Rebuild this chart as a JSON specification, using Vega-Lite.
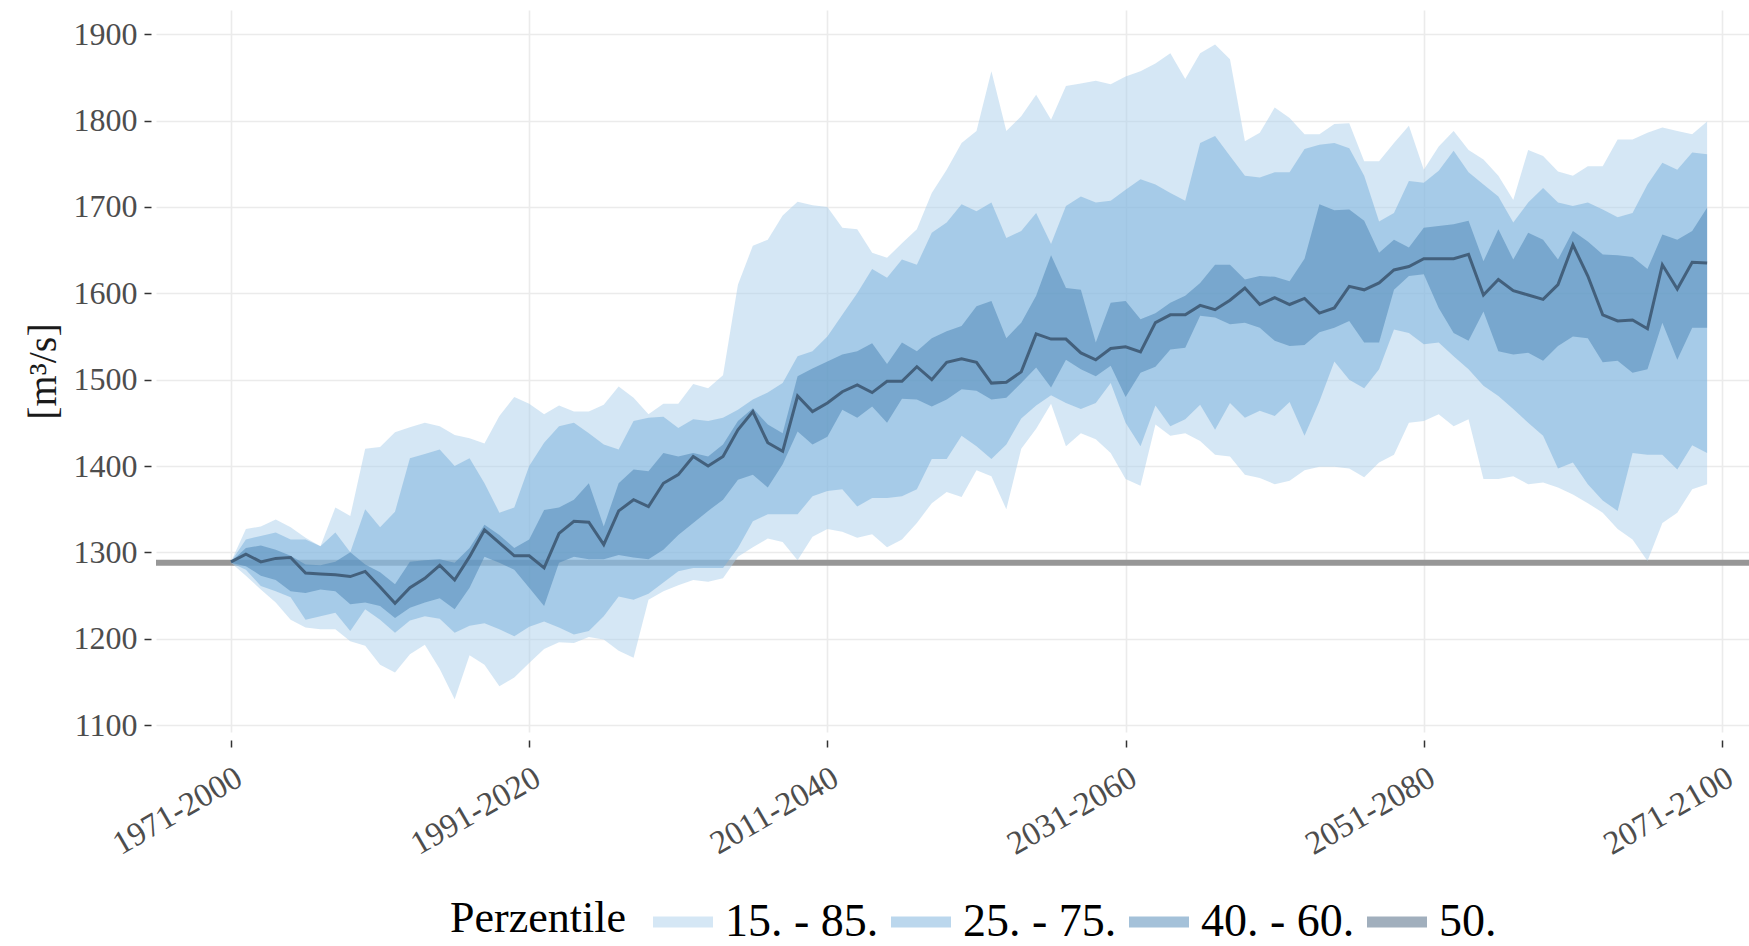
{
  "$schema": "https://vega.github.io/schema/vega-lite/v6.json",
  "autosize": {"type": "none"},
  "padding": {"left": 156, "top": 10, "right": 0, "bottom": 214},
  "width": 1593,
  "height": 722,
  "background": "white",
  "config": {
    "view": {"stroke": null},
    "axis": {
      "domain": false,
      "grid": true,
      "gridColor": "#ebebeb",
      "gridWidth": 1.6,
      "tickColor": "#333333",
      "tickSize": 7,
      "tickWidth": 1.5,
      "labelFont": "Liberation Serif",
      "labelColor": "#4d4d4d",
      "titleFont": "Liberation Serif",
      "titleFontWeight": "normal",
      "titleColor": "#1a1a1a"
    }
  },
  "datasets": {
    "q": [
      {"year":1971,"p15":1288,"p25":1288,"p40":1288,"p50":1289,"p60":1289,"p75":1289,"p85":1289},
      {"year":1972,"p15":1273,"p25":1280,"p40":1284,"p50":1298,"p60":1305,"p75":1315,"p85":1327},
      {"year":1973,"p15":1257,"p25":1261,"p40":1273,"p50":1289,"p60":1308,"p75":1319,"p85":1330},
      {"year":1974,"p15":1242,"p25":1255,"p40":1268,"p50":1293,"p60":1303,"p75":1323,"p85":1338},
      {"year":1975,"p15":1222,"p25":1248,"p40":1255,"p50":1294,"p60":1296,"p75":1315,"p85":1329},
      {"year":1976,"p15":1213,"p25":1222,"p40":1253,"p50":1276,"p60":1286,"p75":1315,"p85":1317},
      {"year":1977,"p15":1211,"p25":1226,"p40":1257,"p50":1275,"p60":1285,"p75":1307,"p85":1307},
      {"year":1978,"p15":1211,"p25":1230,"p40":1255,"p50":1274,"p60":1289,"p75":1323,"p85":1352},
      {"year":1979,"p15":1197,"p25":1209,"p40":1240,"p50":1272,"p60":1300,"p75":1300,"p85":1342},
      {"year":1980,"p15":1192,"p25":1234,"p40":1242,"p50":1278,"p60":1286,"p75":1350,"p85":1420},
      {"year":1981,"p15":1170,"p25":1222,"p40":1238,"p50":1260,"p60":1277,"p75":1329,"p85":1422},
      {"year":1982,"p15":1161,"p25":1207,"p40":1224,"p50":1241,"p60":1263,"p75":1347,"p85":1439},
      {"year":1983,"p15":1182,"p25":1221,"p40":1236,"p50":1259,"p60":1289,"p75":1409,"p85":1445},
      {"year":1984,"p15":1193,"p25":1226,"p40":1242,"p50":1270,"p60":1291,"p75":1414,"p85":1450},
      {"year":1985,"p15":1165,"p25":1223,"p40":1247,"p50":1285,"p60":1292,"p75":1419,"p85":1446},
      {"year":1986,"p15":1130,"p25":1207,"p40":1234,"p50":1268,"p60":1288,"p75":1400,"p85":1436},
      {"year":1987,"p15":1181,"p25":1215,"p40":1259,"p50":1295,"p60":1305,"p75":1409,"p85":1432},
      {"year":1988,"p15":1170,"p25":1218,"p40":1295,"p50":1326,"p60":1332,"p75":1380,"p85":1426},
      {"year":1989,"p15":1145,"p25":1211,"p40":1288,"p50":1311,"p60":1320,"p75":1346,"p85":1458},
      {"year":1990,"p15":1155,"p25":1203,"p40":1280,"p50":1296,"p60":1305,"p75":1352,"p85":1480},
      {"year":1991,"p15":1172,"p25":1214,"p40":1259,"p50":1296,"p60":1315,"p75":1400,"p85":1472},
      {"year":1992,"p15":1188,"p25":1220,"p40":1238,"p50":1282,"p60":1349,"p75":1427,"p85":1460},
      {"year":1993,"p15":1196,"p25":1213,"p40":1288,"p50":1322,"p60":1352,"p75":1446,"p85":1470},
      {"year":1994,"p15":1195,"p25":1205,"p40":1295,"p50":1336,"p60":1361,"p75":1450,"p85":1463},
      {"year":1995,"p15":1202,"p25":1209,"p40":1292,"p50":1335,"p60":1380,"p75":1438,"p85":1463},
      {"year":1996,"p15":1199,"p25":1226,"p40":1292,"p50":1309,"p60":1330,"p75":1425,"p85":1471},
      {"year":1997,"p15":1186,"p25":1249,"p40":1297,"p50":1348,"p60":1380,"p75":1419,"p85":1492},
      {"year":1998,"p15":1178,"p25":1245,"p40":1294,"p50":1361,"p60":1396,"p75":1452,"p85":1479},
      {"year":1999,"p15":1245,"p25":1252,"p40":1292,"p50":1353,"p60":1394,"p75":1456,"p85":1460},
      {"year":2000,"p15":1255,"p25":1265,"p40":1303,"p50":1380,"p60":1415,"p75":1457,"p85":1472},
      {"year":2001,"p15":1262,"p25":1278,"p40":1320,"p50":1390,"p60":1411,"p75":1444,"p85":1472},
      {"year":2002,"p15":1268,"p25":1282,"p40":1334,"p50":1411,"p60":1415,"p75":1454,"p85":1495},
      {"year":2003,"p15":1266,"p25":1282,"p40":1348,"p50":1400,"p60":1411,"p75":1452,"p85":1490},
      {"year":2004,"p15":1270,"p25":1282,"p40":1361,"p50":1411,"p60":1425,"p75":1456,"p85":1505},
      {"year":2005,"p15":1295,"p25":1305,"p40":1384,"p50":1442,"p60":1452,"p75":1465,"p85":1610},
      {"year":2006,"p15":1306,"p25":1336,"p40":1390,"p50":1463,"p60":1467,"p75":1477,"p85":1655},
      {"year":2007,"p15":1316,"p25":1344,"p40":1375,"p50":1427,"p60":1448,"p75":1485,"p85":1662},
      {"year":2008,"p15":1312,"p25":1344,"p40":1402,"p50":1417,"p60":1438,"p75":1496,"p85":1690},
      {"year":2009,"p15":1291,"p25":1344,"p40":1440,"p50":1481,"p60":1504,"p75":1527,"p85":1706},
      {"year":2010,"p15":1318,"p25":1365,"p40":1425,"p50":1463,"p60":1513,"p75":1533,"p85":1702},
      {"year":2011,"p15":1327,"p25":1371,"p40":1434,"p50":1473,"p60":1521,"p75":1550,"p85":1700},
      {"year":2012,"p15":1324,"p25":1373,"p40":1465,"p50":1486,"p60":1529,"p75":1575,"p85":1676},
      {"year":2013,"p15":1317,"p25":1353,"p40":1456,"p50":1494,"p60":1533,"p75":1600,"p85":1674},
      {"year":2014,"p15":1321,"p25":1363,"p40":1469,"p50":1485,"p60":1542,"p75":1628,"p85":1647},
      {"year":2015,"p15":1306,"p25":1363,"p40":1450,"p50":1498,"p60":1518,"p75":1618,"p85":1641},
      {"year":2016,"p15":1315,"p25":1365,"p40":1478,"p50":1498,"p60":1543,"p75":1639,"p85":1658},
      {"year":2017,"p15":1334,"p25":1373,"p40":1477,"p50":1515,"p60":1533,"p75":1633,"p85":1674},
      {"year":2018,"p15":1357,"p25":1408,"p40":1469,"p50":1500,"p60":1548,"p75":1670,"p85":1716},
      {"year":2019,"p15":1370,"p25":1408,"p40":1477,"p50":1520,"p60":1556,"p75":1682,"p85":1743},
      {"year":2020,"p15":1364,"p25":1435,"p40":1489,"p50":1524,"p60":1562,"p75":1703,"p85":1774},
      {"year":2021,"p15":1395,"p25":1423,"p40":1487,"p50":1520,"p60":1585,"p75":1695,"p85":1788},
      {"year":2022,"p15":1388,"p25":1408,"p40":1477,"p50":1496,"p60":1591,"p75":1705,"p85":1857},
      {"year":2023,"p15":1350,"p25":1425,"p40":1479,"p50":1497,"p60":1548,"p75":1664,"p85":1788},
      {"year":2024,"p15":1420,"p25":1455,"p40":1496,"p50":1509,"p60":1566,"p75":1672,"p85":1805},
      {"year":2025,"p15":1443,"p25":1470,"p40":1514,"p50":1553,"p60":1597,"p75":1693,"p85":1830},
      {"year":2026,"p15":1472,"p25":1482,"p40":1491,"p50":1547,"p60":1644,"p75":1657,"p85":1801},
      {"year":2027,"p15":1423,"p25":1473,"p40":1523,"p50":1547,"p60":1606,"p75":1701,"p85":1840},
      {"year":2028,"p15":1438,"p25":1466,"p40":1512,"p50":1531,"p60":1604,"p75":1712,"p85":1843},
      {"year":2029,"p15":1431,"p25":1473,"p40":1504,"p50":1523,"p60":1543,"p75":1705,"p85":1846},
      {"year":2030,"p15":1415,"p25":1496,"p40":1516,"p50":1536,"p60":1589,"p75":1707,"p85":1842},
      {"year":2031,"p15":1385,"p25":1450,"p40":1480,"p50":1538,"p60":1591,"p75":1720,"p85":1851},
      {"year":2032,"p15":1377,"p25":1423,"p40":1508,"p50":1532,"p60":1570,"p75":1732,"p85":1857},
      {"year":2033,"p15":1448,"p25":1470,"p40":1515,"p50":1566,"p60":1577,"p75":1726,"p85":1866},
      {"year":2034,"p15":1435,"p25":1446,"p40":1535,"p50":1575,"p60":1589,"p75":1716,"p85":1878},
      {"year":2035,"p15":1438,"p25":1454,"p40":1537,"p50":1575,"p60":1597,"p75":1707,"p85":1848},
      {"year":2036,"p15":1429,"p25":1471,"p40":1574,"p50":1586,"p60":1612,"p75":1774,"p85":1878},
      {"year":2037,"p15":1413,"p25":1442,"p40":1572,"p50":1581,"p60":1633,"p75":1782,"p85":1888},
      {"year":2038,"p15":1411,"p25":1473,"p40":1564,"p50":1592,"p60":1633,"p75":1759,"p85":1871},
      {"year":2039,"p15":1390,"p25":1456,"p40":1566,"p50":1606,"p60":1616,"p75":1736,"p85":1776},
      {"year":2040,"p15":1386,"p25":1464,"p40":1560,"p50":1587,"p60":1620,"p75":1734,"p85":1786},
      {"year":2041,"p15":1379,"p25":1458,"p40":1545,"p50":1595,"p60":1619,"p75":1740,"p85":1815},
      {"year":2042,"p15":1383,"p25":1474,"p40":1539,"p50":1587,"p60":1614,"p75":1740,"p85":1803},
      {"year":2043,"p15":1395,"p25":1435,"p40":1540,"p50":1594,"p60":1640,"p75":1767,"p85":1784},
      {"year":2044,"p15":1399,"p25":1475,"p40":1555,"p50":1577,"p60":1703,"p75":1772,"p85":1784},
      {"year":2045,"p15":1399,"p25":1521,"p40":1560,"p50":1583,"p60":1696,"p75":1774,"p85":1796},
      {"year":2046,"p15":1397,"p25":1500,"p40":1568,"p50":1608,"p60":1697,"p75":1768,"p85":1797},
      {"year":2047,"p15":1387,"p25":1490,"p40":1543,"p50":1604,"p60":1684,"p75":1736,"p85":1753},
      {"year":2048,"p15":1404,"p25":1512,"p40":1543,"p50":1612,"p60":1647,"p75":1683,"p85":1753},
      {"year":2049,"p15":1413,"p25":1558,"p40":1604,"p50":1627,"p60":1662,"p75":1693,"p85":1774},
      {"year":2050,"p15":1450,"p25":1554,"p40":1620,"p50":1631,"p60":1653,"p75":1730,"p85":1794},
      {"year":2051,"p15":1452,"p25":1541,"p40":1622,"p50":1640,"p60":1676,"p75":1728,"p85":1743},
      {"year":2052,"p15":1460,"p25":1543,"p40":1583,"p50":1640,"p60":1678,"p75":1742,"p85":1770},
      {"year":2053,"p15":1446,"p25":1527,"p40":1554,"p50":1640,"p60":1680,"p75":1765,"p85":1788},
      {"year":2054,"p15":1454,"p25":1512,"p40":1545,"p50":1645,"p60":1684,"p75":1740,"p85":1766},
      {"year":2055,"p15":1385,"p25":1493,"p40":1579,"p50":1598,"p60":1637,"p75":1726,"p85":1755},
      {"year":2056,"p15":1385,"p25":1481,"p40":1533,"p50":1616,"p60":1674,"p75":1712,"p85":1736},
      {"year":2057,"p15":1388,"p25":1466,"p40":1529,"p50":1603,"p60":1639,"p75":1682,"p85":1708},
      {"year":2058,"p15":1379,"p25":1450,"p40":1531,"p50":1598,"p60":1670,"p75":1705,"p85":1766},
      {"year":2059,"p15":1381,"p25":1435,"p40":1522,"p50":1593,"p60":1662,"p75":1722,"p85":1759},
      {"year":2060,"p15":1375,"p25":1397,"p40":1539,"p50":1610,"p60":1639,"p75":1705,"p85":1741},
      {"year":2061,"p15":1367,"p25":1404,"p40":1550,"p50":1656,"p60":1672,"p75":1701,"p85":1736},
      {"year":2062,"p15":1357,"p25":1379,"p40":1548,"p50":1620,"p60":1660,"p75":1705,"p85":1747},
      {"year":2063,"p15":1346,"p25":1360,"p40":1520,"p50":1575,"p60":1645,"p75":1697,"p85":1747},
      {"year":2064,"p15":1327,"p25":1348,"p40":1522,"p50":1568,"p60":1644,"p75":1688,"p85":1778},
      {"year":2065,"p15":1315,"p25":1415,"p40":1508,"p50":1569,"p60":1642,"p75":1693,"p85":1778},
      {"year":2066,"p15":1290,"p25":1413,"p40":1512,"p50":1559,"p60":1628,"p75":1726,"p85":1786},
      {"year":2067,"p15":1334,"p25":1413,"p40":1566,"p50":1633,"p60":1668,"p75":1751,"p85":1792},
      {"year":2068,"p15":1346,"p25":1396,"p40":1523,"p50":1605,"p60":1662,"p75":1743,"p85":1788},
      {"year":2069,"p15":1373,"p25":1424,"p40":1560,"p50":1636,"p60":1672,"p75":1763,"p85":1784},
      {"year":2070,"p15":1379,"p25":1415,"p40":1560,"p50":1635,"p60":1699,"p75":1761,"p85":1799}
    ],
    "ref": [{"level": 1288}]
  },
  "layer": [
    {
      "data": {"name": "ref"},
      "mark": {"type": "rule", "color": "#979797", "strokeWidth": 6},
      "encoding": {
        "y": {"field": "level", "type": "quantitative", "title": "[m³/s]",
              "scale": {"domain": [1092, 1928], "nice": false, "zero": false},
              "axis": {"values": [1100,1200,1300,1400,1500,1600,1700,1800,1900], "format": "d", "labelFontSize": 32, "labelPadding": 7, "offset": 5, "titleFontSize": 40, "titlePadding": 10}}
      }
    },
    {
      "data": {"name": "q"},
      "layer": [
        {
          "mark": {"type": "area", "fillOpacity": 0.5},
          "encoding": {
            "y": {"field": "p15"},
            "y2": {"field": "p85"},
            "color": {"datum": "15. - 85."}
          }
        },
        {
          "mark": {"type": "area", "fillOpacity": 0.5},
          "encoding": {
            "y": {"field": "p25"},
            "y2": {"field": "p75"},
            "color": {"datum": "25. - 75."}
          }
        },
        {
          "mark": {"type": "area", "fillOpacity": 0.5},
          "encoding": {
            "y": {"field": "p40"},
            "y2": {"field": "p60"},
            "color": {"datum": "40. - 60."}
          }
        },
        {
          "mark": {"type": "line", "strokeWidth": 3},
          "encoding": {
            "y": {"field": "p50"},
            "color": {"datum": "50."}
          }
        }
      ],
      "encoding": {
        "x": {"field": "year", "type": "quantitative", "title": null,
              "scale": {"domain": [1965.97, 2072.81], "nice": false, "zero": false},
              "axis": {"values": [1971, 1991, 2011, 2031, 2051, 2071], "labelExpr": "datum.value + '-' + (datum.value + 29)", "labelAngle": -30, "labelAlign": "right", "labelBaseline": "top", "labelFontSize": 33, "labelPadding": 14, "offset": 8}},
        "y": {"type": "quantitative", "title": "[m³/s]",
              "scale": {"domain": [1092, 1928], "nice": false, "zero": false},
              "axis": {"values": [1100,1200,1300,1400,1500,1600,1700,1800,1900], "format": "d", "labelFontSize": 32, "labelPadding": 7, "offset": 5, "titleFontSize": 40, "titlePadding": 10}},
        "color": {
          "type": "nominal",
          "scale": {"domain": ["15. - 85.", "25. - 75.", "40. - 60.", "50."], "range": ["#abcfeb", "#77afdb", "#4a83b4", "#43607c"]},
          "legend": {
            "title": "Perzentile",
            "orient": "none",
            "legendX": 294,
            "legendY": 882,
            "direction": "horizontal",
            "titleOrient": "left",
            "titleFont": "Liberation Serif",
            "titleFontSize": 44,
            "titleFontWeight": "normal",
            "titleColor": "#000000",
            "titlePadding": 27,
            "titleBaseline": "middle",
            "labelFont": "Liberation Serif",
            "labelFontSize": 46,
            "labelColor": "#000000",
            "labelOffset": 12,
            "labelLimit": 400,
            "columnPadding": 12,
            "symbolType": "M-1,-0.18L1,-0.18L1,0.18L-1,0.18Z",
            "symbolSize": 3600,
            "symbolOpacity": 0.5,
            "symbolStrokeWidth": 0
          }
        }
      }
    }
  ]
}
